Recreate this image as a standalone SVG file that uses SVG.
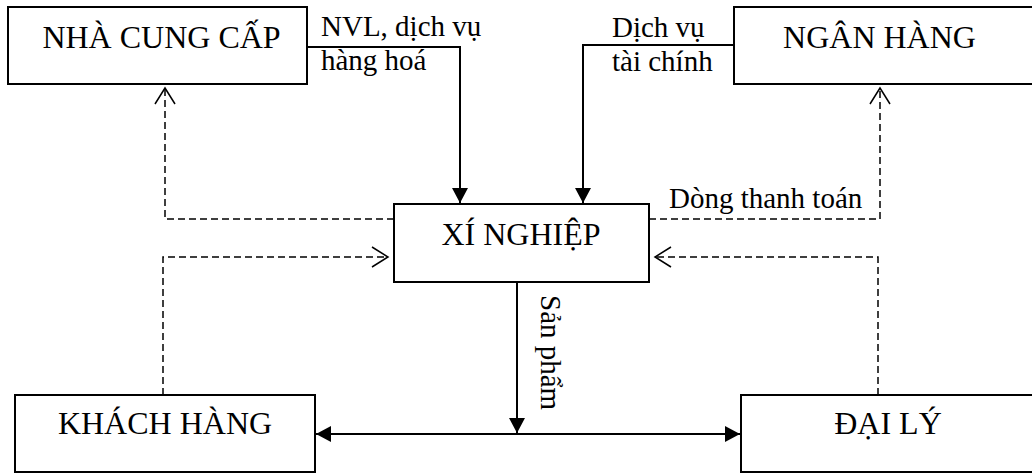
<svg xmlns="http://www.w3.org/2000/svg" width="1032" height="473" viewBox="0 0 1032 473">
<style>
  .box { fill: #fff; stroke: #000; stroke-width: 2; }
  .big { font-family: "Liberation Serif", "Times New Roman", serif; font-size: 32px; fill: #000; text-anchor: middle; }
  .lbl { font-family: "Liberation Serif", "Times New Roman", serif; font-size: 29px; fill: #000; }
  .solid { fill: none; stroke: #000; stroke-width: 2; }
  .dash { fill: none; stroke: #000; stroke-width: 1.5; stroke-dasharray: 7 4; }
</style>
<defs>
  <marker id="fill" markerUnits="userSpaceOnUse" markerWidth="16" markerHeight="16" refX="15" refY="8" orient="auto-start-reverse">
    <path d="M0,0 L15,8 L0,16 Z" fill="#000"/>
  </marker>
  <marker id="open" markerUnits="userSpaceOnUse" markerWidth="20" markerHeight="24" refX="17" refY="11" orient="auto">
    <path d="M1,1 L17,11 L1,21" fill="none" stroke="#000" stroke-width="1.5"/>
  </marker>
</defs>
<rect width="1032" height="473" fill="#fff"/>
<g id="connectors">
  <path class="solid" d="M307,47 H460 V203" marker-end="url(#fill)"/>
  <path class="solid" d="M734,45 H583 V203" marker-end="url(#fill)"/>
  <path class="dash" d="M394,219 H165 V88" marker-end="url(#open)"/>
  <path class="dash" d="M649,219 H880 V88" marker-end="url(#open)"/>
  <path class="dash" d="M163,395 V257 H388" marker-end="url(#open)"/>
  <path class="dash" d="M878,395 V257 H655" marker-end="url(#open)"/>
  <path class="solid" d="M517,282 V433" marker-end="url(#fill)"/>
  <path class="solid" d="M316,434 H740" marker-start="url(#fill)" marker-end="url(#fill)"/>
  <text class="lbl" x="321" y="36">NVL, dịch vụ</text>
  <text class="lbl" x="321" y="70">hàng hoá</text>
  <text class="lbl" x="612" y="37">Dịch vụ</text>
  <text class="lbl" x="612" y="71">tài chính</text>
  <text class="lbl" x="669" y="208">Dòng thanh toán</text>
  <text class="lbl" transform="translate(541,295) rotate(90)">Sản phẩm</text>
</g>
<g id="nha-cung-cap">
  <rect class="box" x="8" y="7" width="299" height="77"/>
  <text class="big" x="161.5" y="48">NHÀ CUNG CẤP</text>
</g>
<g id="ngan-hang">
  <rect class="box" x="734" y="7" width="310" height="77"/>
  <text class="big" x="879.5" y="48">NGÂN HÀNG</text>
</g>
<g id="xi-nghiep">
  <rect class="box" x="394" y="204" width="255" height="78"/>
  <text class="big" x="521" y="245">XÍ NGHIỆP</text>
</g>
<g id="khach-hang">
  <rect class="box" x="15" y="395" width="300" height="77"/>
  <text class="big" x="165" y="434">KHÁCH HÀNG</text>
</g>
<g id="dai-ly">
  <rect class="box" x="741" y="395" width="310" height="77"/>
  <text class="big" x="888" y="434">ĐẠI LÝ</text>
</g>
</svg>
